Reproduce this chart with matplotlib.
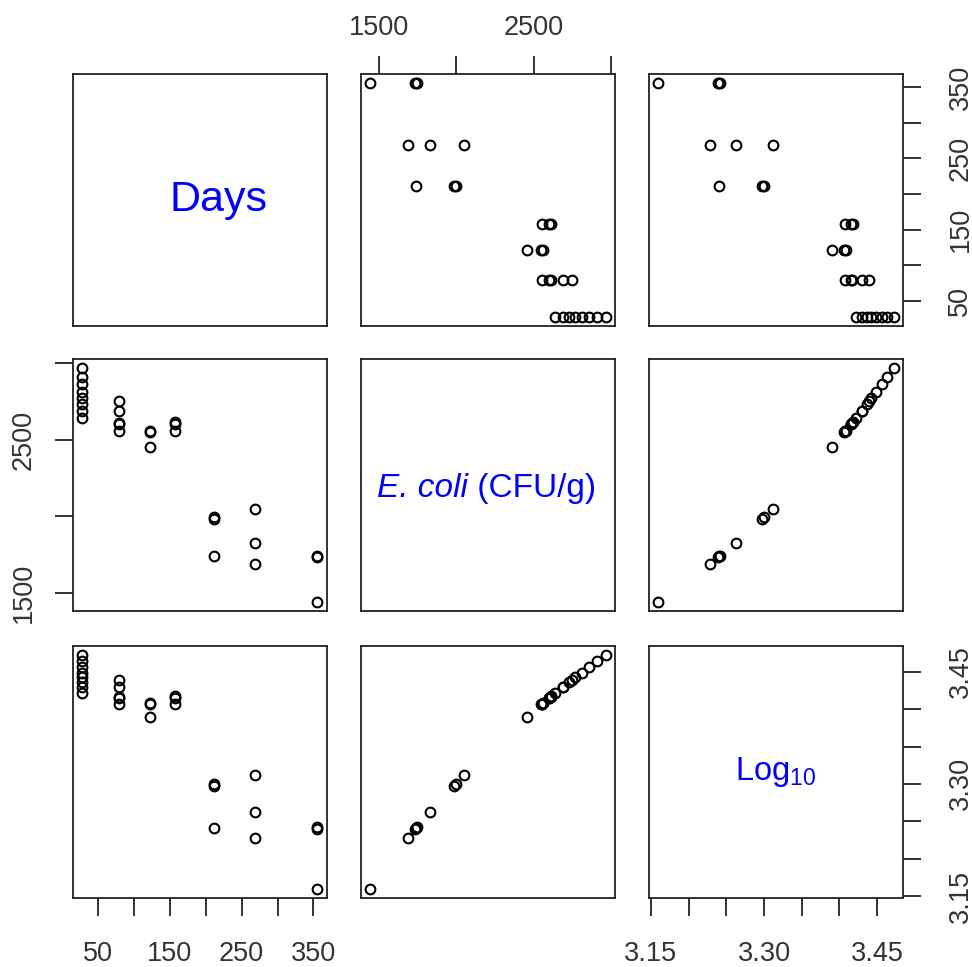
import matplotlib.pyplot as plt
import numpy as np

plt.rcParams['font.family'] = ['Liberation Sans', 'DejaVu Sans']
plt.rcParams['mathtext.fontset'] = 'custom'
plt.rcParams['mathtext.rm'] = 'Liberation Sans'
plt.rcParams['mathtext.it'] = 'Liberation Sans:italic'

# values
days = [28, 28, 28, 28, 28, 28, 28, 28,
        80, 80, 80, 80, 80,
        122, 122, 122,
        158, 158, 158,
        211, 211, 211,
        268, 268, 268,
        355, 355, 355]
ecoli = [2640, 2690, 2730, 2770, 2810, 2860, 2910, 2965,
         2555, 2600, 2610, 2690, 2750,
         2455, 2550, 2560,
         2555, 2600, 2615,
         1740, 1985, 1995,
         1690, 1830, 2050,
         1445, 1735, 1745]
log10 = [3.4216, 3.4298, 3.4362, 3.4425, 3.4487, 3.4564, 3.4639, 3.4720,
         3.4074, 3.4150, 3.4166, 3.4298, 3.4393,
         3.3900, 3.4065, 3.4082,
         3.4074, 3.4150, 3.4175,
         3.2405, 3.2978, 3.3000,
         3.2279, 3.2625, 3.3118,
         3.1599, 3.2393, 3.2418]

tick_vals = [[50, 100, 150, 200, 250, 300, 350],
             [1500, 2000, 2500, 3000],
             [3.15, 3.20, 3.25, 3.30, 3.35, 3.40, 3.45]]
tick_text = [['50', '', '150', '', '250', '', '350'],
             ['1500', '', '2500', ''],
             ['3.15', '', '', '3.30', '', '', '3.45']]

cols = [days, ecoli, log10]


def padded(v):
    lo, hi = min(v), max(v)
    d = (hi - lo) * 0.04
    return lo - d, hi + d


def diag_label(ax, i):
    if i == 0:
        ax.text(0.575, 0.5, 'Days', transform=ax.transAxes, color='blue',
                fontsize=31, ha='center', va='center')
    elif i == 1:
        # italic species name followed by the unit in upright type
        ax.text(0.421, 0.5, 'E. coli', transform=ax.transAxes, color='blue',
                fontsize=24, ha='right', va='center_baseline', style='italic')
        ax.text(0.421, 0.5, ' (CFU/g)', transform=ax.transAxes, color='blue',
                fontsize=24, ha='left', va='center_baseline')
    else:
        ax.text(0.5, 0.5, r'Log$_{10}$', transform=ax.transAxes, color='blue',
                fontsize=23.5, ha='center', va='center')


W, H = 972, 967
fig = plt.figure(figsize=(W / 100, H / 100), dpi=100)
lefts = [72.5, 361, 649]
tops = [74, 359, 646]
pw, ph = 254, 252
fs = 19.5
edge = '#222222'

for i in range(3):
    for j in range(3):
        ax = fig.add_axes([lefts[j] / W, 1 - (tops[i] + ph) / H, pw / W, ph / H])
        for s in ax.spines.values():
            s.set_linewidth(1.3)
            s.set_color(edge)
        ax.set_xlim(padded(cols[j]))
        ax.set_ylim(padded(cols[i]))
        if i == j:
            diag_label(ax, i)
        else:
            ax.plot(cols[j], cols[i], 'o', mfc='none', mec='black', ms=7, mew=1.5)
        ax.set_xticks([])
        ax.set_yticks([])

        # x axis: top for middle column, bottom for outer columns
        if (i == 0 and j == 1) or (i == 2 and j != 1):
            ax.set_xticks(tick_vals[j])
            ax.set_xticklabels(tick_text[j])
            if i == 0:
                ax.xaxis.tick_top()
                ax.tick_params(axis='x', pad=11)
            else:
                ax.tick_params(axis='x', pad=18)
            ax.tick_params(axis='x', direction='out', length=13, width=1.3,
                           labelsize=fs, colors=edge, labelcolor='#333333')
        # y axis: left for middle row, right for outer rows
        if (i == 1 and j == 0) or (i != 1 and j == 2):
            ax.set_yticks(tick_vals[i])
            ax.set_yticklabels(tick_text[i])
            if i != 1:
                ax.yaxis.tick_right()
                ax.tick_params(axis='y', pad=19)
            else:
                ax.tick_params(axis='y', pad=13)
            ax.tick_params(axis='y', direction='out', length=13, width=1.3,
                           labelsize=fs, labelrotation=90, colors=edge,
                           labelcolor='#333333')
            for lbl in ax.get_yticklabels():
                lbl.set_va('center')

fig.savefig('out.png', dpi=100, facecolor='white')
